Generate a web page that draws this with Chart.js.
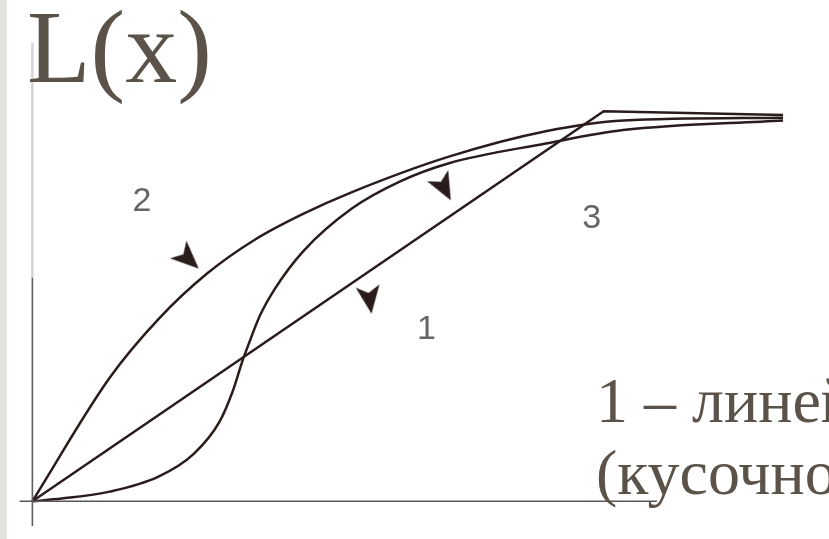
<!DOCTYPE html>
<html>
<head>
<meta charset="utf-8">
<script src="https://cdn.jsdelivr.net/npm/chart.js@4.4.1/dist/chart.umd.min.js"></script>
<style>
  html, body { margin: 0; padding: 0; background: #fff; }
  #wrap { position: relative; width: 829px; height: 539px; overflow: hidden; background: #fff; }
  #plot { position: absolute; left: 0; top: 0; }
  #edge { position: absolute; left: 0; top: 0; width: 7px; height: 539px; background: #e4e2dd; }
  .serif { position: absolute; font-family: "Liberation Serif", "Times New Roman", serif; color: #5b5249; white-space: nowrap; }
  #title { left: 27px; top: -5px; font-size: 104px; line-height: 104px; }
  #caption { left: 596px; top: 365px; font-size: 64px; line-height: 72px; }
  .num { position: absolute; font-family: "Liberation Sans", Arial, sans-serif; font-size: 34px; line-height: 34px;
         color: #666; transform: translate(-50%, -50%); filter: blur(0.4px); }
</style>
</head>
<body>
<div id="wrap">
  <canvas id="plot" width="829" height="539"></canvas>
  <div id="edge"></div>
  <div id="title" class="serif">L(x)</div>
  <div id="caption" class="serif">1 – линейная<br>(кусочно-линейная)</div>
</div>
<script>
// curve 3: straight rise, then flat
var lineX = [0, 7.61, 10.0];
var lineL = [0, 1.012, 1.002];

// curve 2: concave
var concaveX = [0, 1.032, 1.677, 2.323, 2.968, 3.613, 4.258, 5.548, 6.839, 7.871, 10.0];
var concaveL = [0, 0.321, 0.472, 0.590, 0.679, 0.746, 0.802, 0.894, 0.960, 0.988, 0.995];

// curve 1: S-shaped
var sX = [0, 0.39, 1.03, 1.68, 2.15, 2.49, 2.67, 2.80, 2.88, 3.03, 3.23, 3.61, 4.26, 4.90, 5.55, 6.84, 7.87, 10.0];
var sL = [0, 0.007, 0.025, 0.064, 0.123, 0.205, 0.286, 0.365, 0.407, 0.481, 0.551, 0.649, 0.760, 0.830, 0.877, 0.928, 0.963, 0.988];

// arrowheads
var arrowX = [2.07, 5.48, 4.49];
var arrowL = [0.630, 0.815, 0.525];
var arrowAngle = [43, 62, 82];

// curve numbers
var numText = ["2", "3", "1"];
var numX = [1.46, 7.45, 5.25];
var numL = [0.785, 0.741, 0.452];

// axis extents
var xAxisRange = [-0.17, 8.32];
var yAxisLow = [-0.07, 0.58];
var yAxisHigh = [0.58, 1.19];

// pixel frame
var ORIGIN_X = 20, ORIGIN_Y = 513, UNIT_X = 77.5, UNIT_Y = 405, W = 829, H = 539;

var ink = "#2b1c1c";

function pts(xs, ys) {
  return xs.map(function (x, i) { return { x: x, y: ys[i] }; });
}

// dart used as arrowhead, pointing right
function makeDart() {
  var c = document.createElement("canvas");
  c.width = 36; c.height = 36;
  var g = c.getContext("2d");
  g.translate(18, 18);
  g.fillStyle = ink;
  g.beginPath();
  g.moveTo(15, 0);
  g.lineTo(-13, -12);
  g.lineTo(-6, 0);
  g.lineTo(-13, 12);
  g.closePath();
  g.fill();
  return c;
}

function curve(data, mode, tension) {
  return {
    data: data,
    showLine: true,
    borderColor: ink,
    borderWidth: 2.5,
    pointRadius: 0,
    cubicInterpolationMode: mode,
    tension: tension
  };
}

function axisLine(data, color, width) {
  return {
    data: data,
    showLine: true,
    borderColor: color,
    borderWidth: width,
    pointRadius: 0
  };
}

var chart = new Chart(document.getElementById("plot"), {
  type: "scatter",
  data: {
    datasets: [
      axisLine([{ x: xAxisRange[0], y: 0 }, { x: xAxisRange[1], y: 0 }], "#5a5656", 1.5),
      axisLine([{ x: 0, y: yAxisLow[0] }, { x: 0, y: yAxisLow[1] }], "#605c5c", 1.6),
      axisLine([{ x: 0, y: yAxisHigh[0] }, { x: 0, y: yAxisHigh[1] }], "#d6d4d4", 2.5),
      curve(pts(lineX, lineL), "default", 0),
      curve(pts(concaveX, concaveL), "monotone", 0),
      curve(pts(sX, sL), "monotone", 0),
      {
        data: pts(arrowX, arrowL),
        pointStyle: makeDart(),
        pointRotation: arrowAngle,
        pointRadius: 12,
        showLine: false
      }
    ]
  },
  options: {
    responsive: false,
    animation: false,
    layout: { padding: 0 },
    plugins: { legend: { display: false }, tooltip: { enabled: false } },
    scales: {
      x: { type: "linear", display: false, min: -ORIGIN_X / UNIT_X, max: (W - ORIGIN_X) / UNIT_X },
      y: { type: "linear", display: false, min: -(H - ORIGIN_Y) / UNIT_Y, max: ORIGIN_Y / UNIT_Y }
    }
  }
});

// place the curve numbers through the scales
var wrap = document.getElementById("wrap");
numText.forEach(function (t, i) {
  var d = document.createElement("div");
  d.className = "num";
  d.textContent = t;
  d.style.left = chart.scales.x.getPixelForValue(numX[i]) + "px";
  d.style.top = chart.scales.y.getPixelForValue(numL[i]) + "px";
  wrap.appendChild(d);
});
</script>
</body>
</html>
